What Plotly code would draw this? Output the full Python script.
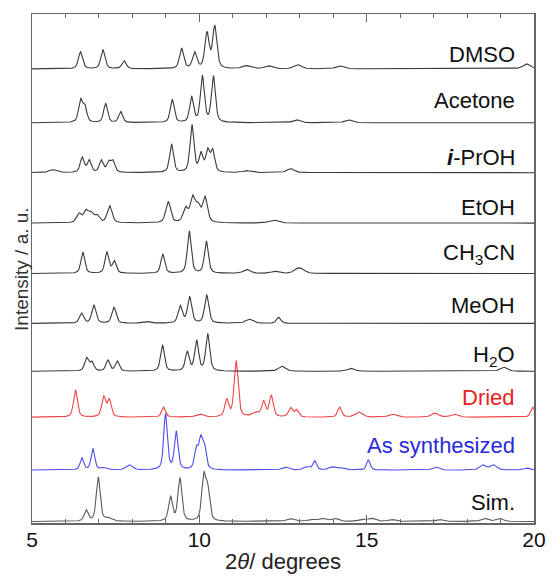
import numpy as np
import plotly.graph_objects as go

# ---------------- data ----------------
# peak positions (2theta, degrees) and apex heights (a.u.) for each pattern
sim_pos = [6.62, 6.98, 7.28, 9.14, 9.42, 10.13, 10.25, 12.72, 13.34, 13.67, 14.04, 14.87, 15.15, 15.74, 17.17, 18.52, 18.97]
sim_int = [11, 44, 3, 24, 43, 44, 30, 3, 2, 3, 3, 2, 3, 2, 2, 3, 3]

as_pos = [6.49, 6.82, 7.14, 7.91, 8.99, 9.31, 9.91, 10.04, 10.15, 12.56, 13.21, 13.45, 13.97, 14.25, 15.05, 17.06, 18.47, 18.79, 19.79]
as_int = [12, 21, 2, 5, 56, 38, 20, 28, 22, 3, 3, 9, 3, 2, 10, 3, 5, 5, 2]

dried_pos = [6.30, 7.14, 7.31, 8.93, 10.01, 10.82, 11.10, 11.68, 11.92, 12.15, 12.72, 12.90, 14.19, 14.77, 15.76, 17.04, 17.62, 19.96]
dried_int = [27, 20, 17, 10, 3, 17, 56, 4, 15, 21, 9, 7, 10, 5, 3, 4, 3, 10]

h2o_pos = [6.63, 6.79, 7.27, 7.55, 8.90, 9.64, 9.92, 10.25, 12.47, 14.53, 19.10]
h2o_int = [13, 9, 11, 10, 26, 19, 30, 37, 5, 3, 4]

meoh_pos = [6.48, 6.85, 7.45, 8.40, 9.43, 9.71, 10.22, 11.50, 12.37]
meoh_int = [10, 18, 16, 2, 17, 26, 28, 4, 6]

mecn_pos = [6.52, 7.24, 7.46, 8.91, 9.70, 10.21, 11.42, 12.25, 12.93, 13.07]
mecn_int = [21, 21, 12, 19, 42, 32, 4, 2, 4, 3]

etoh_pos = [6.40, 6.61, 6.76, 6.94, 7.32, 9.07, 9.59, 9.80, 9.96, 10.17, 12.21]
etoh_int = [9, 11, 9, 7, 17, 21, 14, 24, 15, 25, 3]

iproh_pos = [5.62, 6.50, 6.71, 7.07, 7.29, 7.42, 9.17, 9.78, 10.05, 10.25, 10.40, 11.41, 12.73]
iproh_int = [3, 15, 12, 12, 10, 11, 28, 47, 18, 21, 21, 2, 4]

acetone_pos = [6.45, 6.58, 7.20, 7.65, 9.19, 9.77, 10.09, 10.42, 12.90, 14.45]
acetone_int = [22, 15, 19, 11, 23, 25, 46, 46, 3, 3]

dmso_pos = [6.45, 7.12, 7.75, 9.47, 9.86, 10.23, 10.46, 11.40, 12.05, 12.94, 14.19, 19.78]
dmso_int = [17, 19, 8, 20, 16, 35, 42, 3, 3, 4, 3, 5]

sample_names = ["Sim.", "As synthesized", "Dried", "H<sub>2</sub>O", "MeOH",
                "CH<sub>3</sub>CN", "EtOH", "<b><i>i</i></b>-PrOH", "Acetone", "DMSO"]

x_ticks = [5, 10, 15, 20]

# ---------------- presentation (offsets, colours, widths) ----------------
peaks = [(sim_pos, sim_int), (as_pos, as_int), (dried_pos, dried_int), (h2o_pos, h2o_int),
         (meoh_pos, meoh_int), (mecn_pos, mecn_int), (etoh_pos, etoh_int),
         (iproh_pos, iproh_int), (acetone_pos, acetone_int), (dmso_pos, dmso_int)]
offsets = [1.5, 53, 106, 152, 200, 250, 300.5, 351, 401, 455]
label_y = [21, 78, 126, 167, 218, 270, 316, 366, 423, 469]
fwhm = [0.14, 0.13, 0.14, 0.14, 0.15, 0.14, 0.17, 0.14, 0.14, 0.15]
line_colors = ["#5a5a5a", "#4b4bf0", "#f04545", "#3a3a3a", "#3a3a3a",
               "#3a3a3a", "#3a3a3a", "#3a3a3a", "#3a3a3a", "#3a3a3a"]
label_colors = ["#111111", "#2a2ad8", "#e52222", "#111111", "#111111",
                "#111111", "#111111", "#111111", "#111111", "#111111"]

grid = np.linspace(5, 20, 3001)


def pattern(pos, ht, w):
    y = np.zeros_like(grid)
    for p, h in zip(pos, ht):
        ww = w if h > 5 else w * 1.8
        d2 = 4.0 * (grid - p) ** 2 / ww ** 2
        y += h * (0.5 * np.exp(-np.log(2) * d2) + 0.5 / (1.0 + d2))
    return y


fig = go.Figure()
for i, (pos, ht) in enumerate(peaks):
    fig.add_trace(go.Scatter(x=grid, y=pattern(pos, ht, fwhm[i]) + offsets[i],
                             mode="lines", line=dict(color=line_colors[i], width=1.1),
                             showlegend=False, hoverinfo="skip"))

font_family = "Liberation Sans, Arial, sans-serif"
annotations = []
for i, name in enumerate(sample_names):
    annotations.append(dict(x=0.9667, xref="paper", y=label_y[i], yref="y",
                            text=name, showarrow=False, xanchor="right", yanchor="middle",
                            font=dict(size=22, color=label_colors[i], family=font_family)))
annotations.append(dict(x=0.5, xref="paper", y=-0.075, yref="paper",
                        text="2<i>θ</i>/ degrees", showarrow=False,
                        xanchor="center", yanchor="middle",
                        font=dict(size=22, color="#222222", family=font_family)))
annotations.append(dict(x=-0.021, xref="paper", y=0.5, yref="paper",
                        text="Intensity / a. u.", showarrow=False, textangle=-90,
                        xanchor="center", yanchor="middle",
                        font=dict(size=19, color="#333333", family=font_family)))

fig.update_layout(
    width=558, height=579,
    margin=dict(l=32, r=15, t=13, b=56),
    paper_bgcolor="white", plot_bgcolor="white",
    annotations=annotations,
    xaxis=dict(range=[5, 20], tickvals=x_ticks, ticks="inside", ticklen=8,
               tickcolor="#666666", tickwidth=1.2, ticklabelstandoff=-3,
               minor=dict(dtick=1, ticks="inside", ticklen=4, tickcolor="#666666", tickwidth=1),
               showline=True, linecolor="#666666", linewidth=1.5, mirror="ticks",
               showgrid=False, zeroline=False,
               tickfont=dict(size=21, color="#111111", family=font_family)),
    yaxis=dict(range=[0, 510], showticklabels=False, ticks="",
               showline=True, linecolor="#666666", linewidth=1.5, mirror=True,
               showgrid=False, zeroline=False),
)

fig.write_html("out.html",
               config={"displayModeBar": False, "staticPlot": True},
               post_script="document.body.style.margin='0';document.body.style.overflow='hidden';")
